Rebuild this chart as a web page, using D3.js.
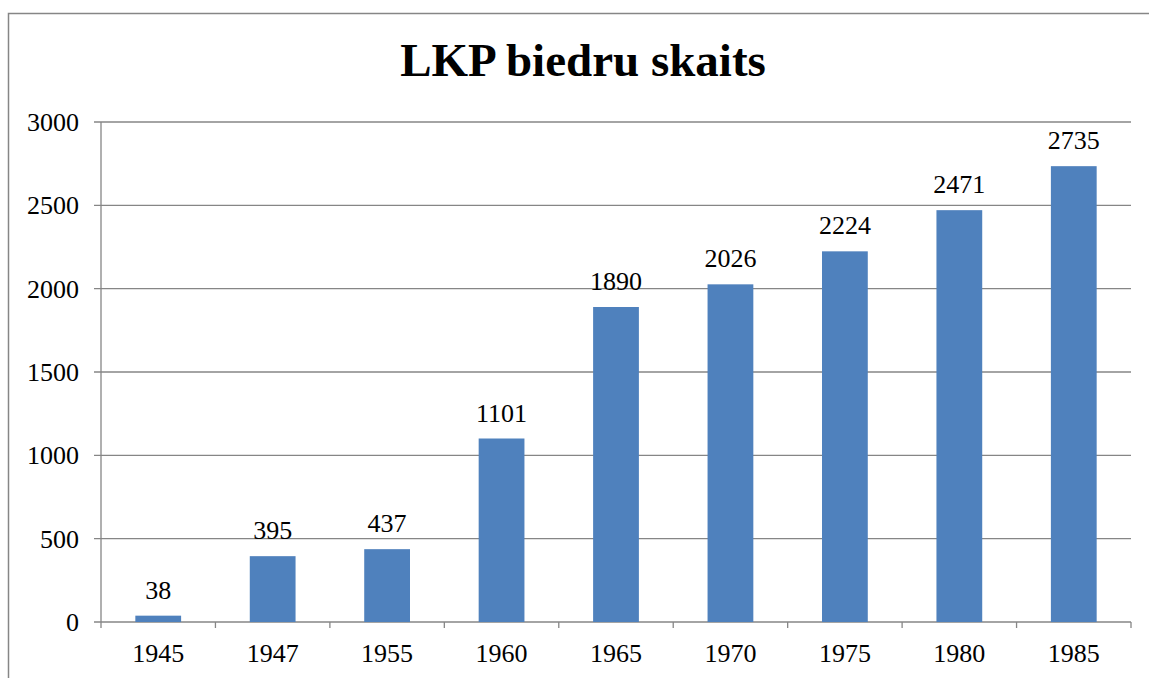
<!DOCTYPE html>
<html>
<head>
<meta charset="utf-8">
<script src="https://cdn.jsdelivr.net/npm/d3@7"></script>
<style>
  body { margin: 0; background: #fff; }
  text { font-family: "Liberation Serif", "Times New Roman", serif; fill: #000; }
</style>
</head>
<body>
<div id="chart"></div>
<script>
// data
const years = ['1945', '1947', '1955', '1960', '1965', '1970', '1975', '1980', '1985']
const members = [38, 395, 437, 1101, 1890, 2026, 2224, 2471, 2735]
const yTicks = [0, 500, 1000, 1500, 2000, 2500, 3000]
const title = 'LKP biedru skaits'

const width = 1149, height = 678
const margin = {top: 122, right: 18, bottom: 56, left: 101}

const svg = d3.select('#chart')
    .append('svg')
    .attr('width', width)
    .attr('height', height)

// outer chart frame (only left and top edges visible)
svg.append('rect')
    .attr('x', 8.5).attr('y', 13.5)
    .attr('width', width + 20).attr('height', height + 20)
    .attr('fill', 'none')
    .attr('stroke', '#868686')
    .attr('stroke-width', 1.5)

svg.append('text')
    .attr('x', 583).attr('y', 76)
    .attr('text-anchor', 'middle')
    .style('font-size', '47px')
    .style('font-weight', 'bold')
    .text(title)

const x = d3.scaleBand()
    .domain(years)
    .range([margin.left, width - margin.right])
    .paddingInner(0.6)
    .paddingOuter(0.3)

const y = d3.scaleLinear()
    .domain([0, 3000])
    .range([height - margin.bottom, margin.top])

// gridlines
svg.append('g')
    .selectAll('line')
    .data(yTicks)
    .enter().append('line')
    .attr('x1', margin.left - 7)
    .attr('x2', width - margin.right)
    .attr('y1', d => y(d))
    .attr('y2', d => y(d))
    .attr('stroke', '#868686')
    .attr('stroke-width', 1.3)

// y axis line
svg.append('line')
    .attr('x1', margin.left).attr('x2', margin.left)
    .attr('y1', y(3000)).attr('y2', y(0))
    .attr('stroke', '#868686')
    .attr('stroke-width', 1.3)

svg.append('g')
    .selectAll('text')
    .data(yTicks)
    .enter().append('text')
    .attr('x', margin.left - 22)
    .attr('y', d => y(d) + 9)
    .attr('text-anchor', 'end')
    .style('font-size', '26px')
    .text(d => d)

// x axis ticks at category boundaries
const bounds = d3.range(years.length + 1).map(i => margin.left + i * (width - margin.right - margin.left) / years.length)
svg.append('g')
    .selectAll('line')
    .data(bounds)
    .enter().append('line')
    .attr('x1', d => d).attr('x2', d => d)
    .attr('y1', y(0)).attr('y2', y(0) + 6)
    .attr('stroke', '#868686')
    .attr('stroke-width', 1.3)

// bars
svg.append('g')
    .selectAll('rect')
    .data(members)
    .enter().append('rect')
    .attr('x', (d, i) => x(years[i]))
    .attr('y', d => y(d))
    .attr('width', x.bandwidth())
    .attr('height', d => y(0) - y(d))
    .attr('fill', '#4F81BD')

// value labels
svg.append('g')
    .selectAll('text')
    .data(members)
    .enter().append('text')
    .attr('x', (d, i) => x(years[i]) + x.bandwidth() / 2)
    .attr('y', d => y(d) - 17)
    .attr('text-anchor', 'middle')
    .style('font-size', '26px')
    .text(d => d)

// x labels
svg.append('g')
    .selectAll('text')
    .data(years)
    .enter().append('text')
    .attr('x', d => x(d) + x.bandwidth() / 2)
    .attr('y', y(0) + 40)
    .attr('text-anchor', 'middle')
    .style('font-size', '26px')
    .text(d => d)
</script>
</body>
</html>
